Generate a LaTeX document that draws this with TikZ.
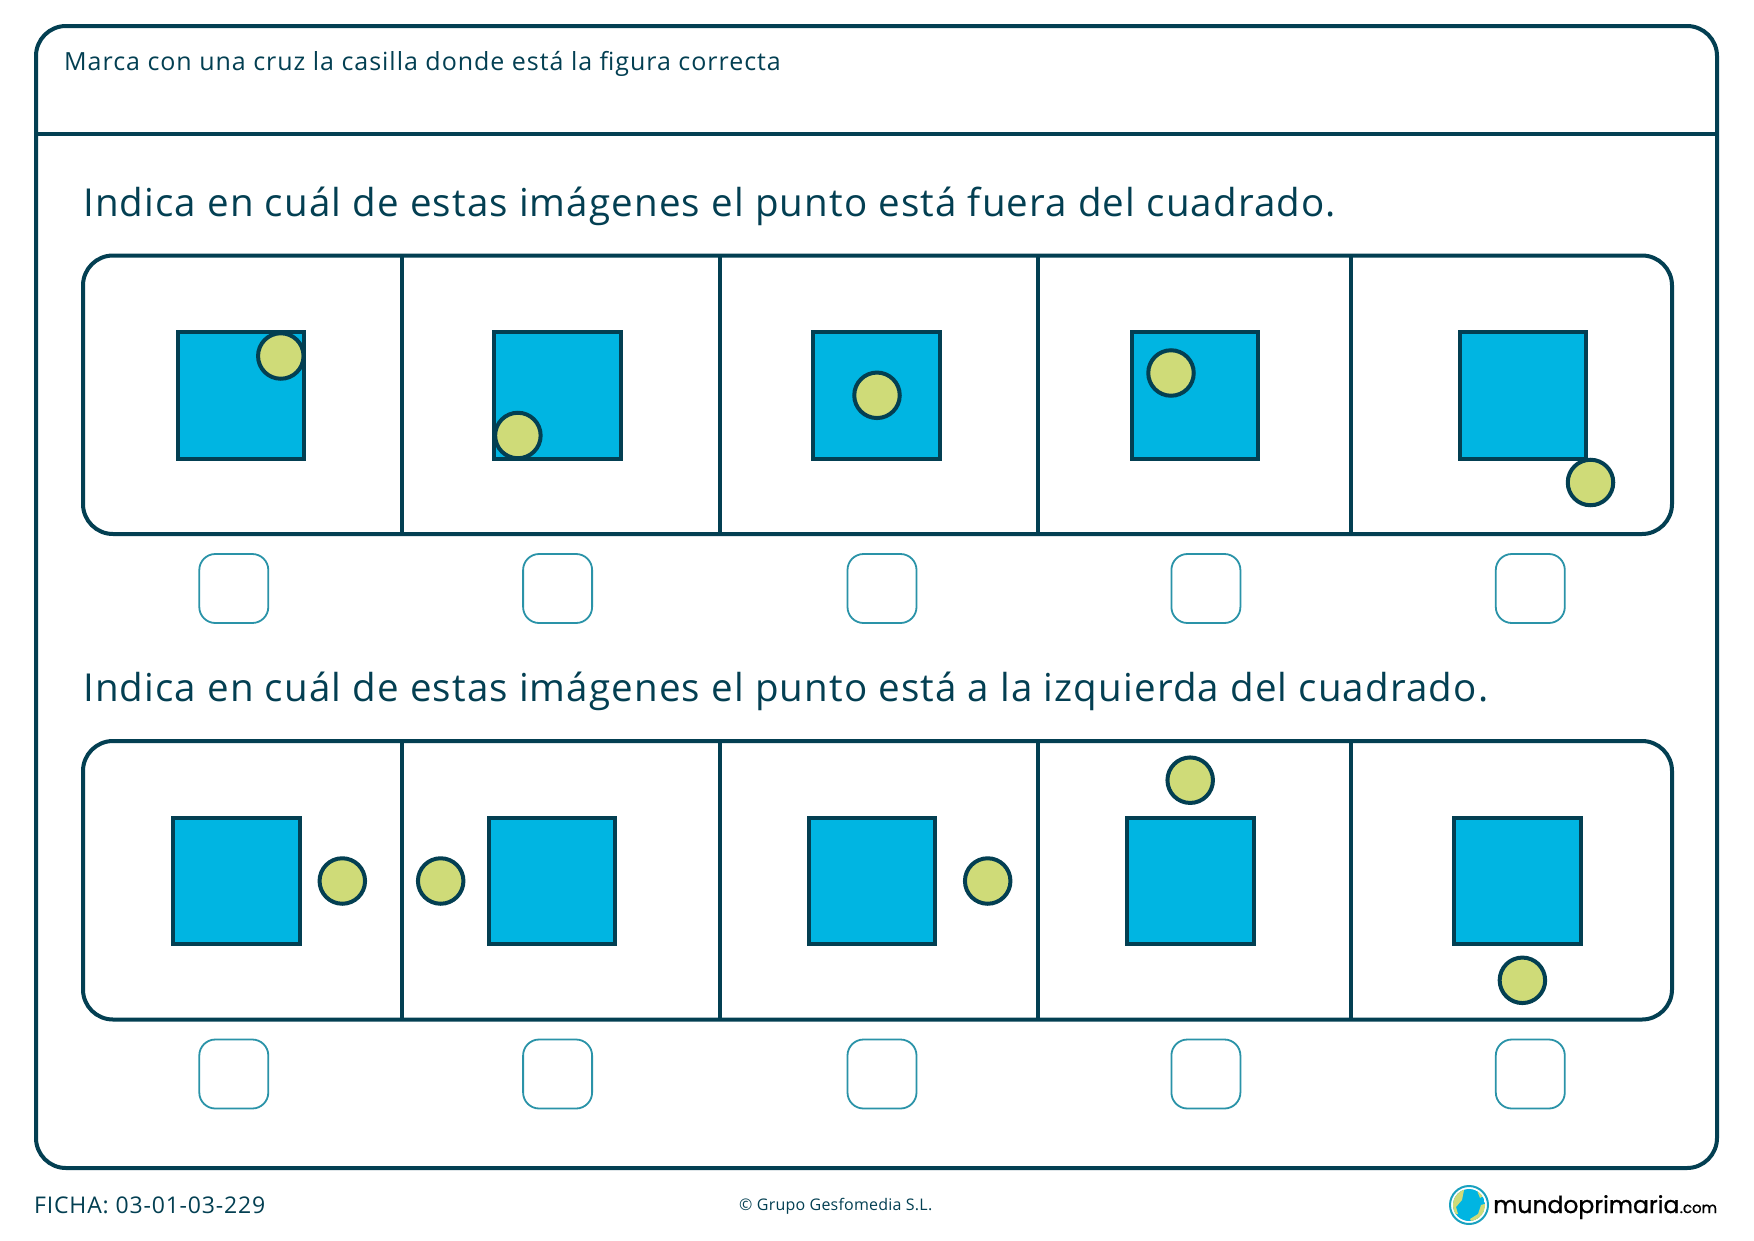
\documentclass[tikz,border=0pt]{standalone}
\usepackage{fontspec}
\setmainfont{Open Sans}
\newfontfamily\logofont[FakeBold=1]{Poppins}
\newfontface\headfont[LetterSpace=2.95]{Open Sans}
\newfontface\orderfont[LetterSpace=3.9]{Open Sans}
\newfontface\fichafont[LetterSpace=3.6]{Open Sans}
\newfontface\copyfont[LetterSpace=1.4]{Open Sans}
\definecolor{inkteal}{HTML}{033F52}
\definecolor{boxteal}{HTML}{2A93A8}
\definecolor{squareblue}{HTML}{00B5E2}
\definecolor{dotgreen}{HTML}{CFDB78}
\begin{document}
\begin{tikzpicture}
		[x=1pt,y=-1pt,
		framebox/.style={draw=inkteal,line width=4pt,rounded corners=30pt,inner sep=0pt,outer sep=0pt},
		square/.style={rectangle,draw=inkteal,line width=4pt,fill=squareblue,minimum size=126.5pt,inner sep=0pt},
		dot/.style={circle,draw=inkteal,line width=4pt,fill=dotgreen,minimum size=45.5pt,inner sep=0pt},
		tickbox/.style={rectangle,draw=boxteal,line width=1.8pt,rounded corners=16pt,minimum size=69pt,inner sep=0pt},
		heading/.style={anchor=base west,inner sep=0pt,text=inkteal,font=\headfont\fontsize{38.5}{46}\selectfont}]
	\useasboundingbox[fill=white] (0,0) rectangle (1754,1240);
	% outer frame
	\node[framebox,minimum width=1681pt,minimum height=1142pt] (frame) at (876.5,597) {};
	\draw[inkteal,line width=4pt] (36,133.5) -- (1717,133.5);
	\node[anchor=base west,inner sep=0pt,text=inkteal,font=\orderfont\fontsize{25}{30}\selectfont] (order) at (64,70) {Marca con una cruz la casilla donde está la figura correcta};
	\node[heading] (title1) at (83,216) {Indica en cuál de estas imágenes el punto está fuera del cuadrado.};
	\node[heading] (title2) at (83,701.5) {Indica en cuál de estas imágenes el punto está a la izquierda del cuadrado.};
	% panels
	\foreach \row/\ytop in {1/255.5,2/741}{
		\node[framebox,minimum width=1589pt,minimum height=278.5pt,anchor=north west] (panel\row) at (83,\ytop) {};
		\foreach \xdiv in {402,720,1038,1351}{
			\draw[inkteal,line width=4pt] (\xdiv,\ytop) -- (\xdiv,\ytop+278.5);
		}
		\foreach \xbox/\i in {233.8/1,557.6/2,882/3,1205.9/4,1530.3/5}{
			\node[tickbox] (box\row\i) at (\xbox,\ytop+333) {};
		}
	}
	% first row
	\foreach \i/\xs/\xd/\yd in {1/241/280.8/356,2/557.6/517.9/435.5,3/876.4/877/395.3,4/1195.2/1171/373,5/1523/1590.5/482.5}{
		\node[square] (squareA\i) at (\xs,395.5) {};
		\node[dot] (dotA\i) at (\xd,\yd) {};
	}
	% second row
	\foreach \i/\xs/\xd/\yd in {1/236.6/342.3/881,2/552/440.7/881,3/872/987.7/881,4/1190.7/1190.2/780.2,5/1517.4/1522.4/980.3}{
		\node[square] (squareB\i) at (\xs,881) {};
		\node[dot] (dotB\i) at (\xd,\yd) {};
	}
	% footer
	\node[anchor=base west,inner sep=0pt,text=inkteal,font=\fichafont\fontsize{23}{27}\selectfont] (ficha) at (34,1213) {FICHA: 03-01-03-229};
	\node[anchor=base west,inner sep=0pt,text=inkteal,font=\copyfont\fontsize{16}{19}\selectfont] (copy) at (739,1210) {© Grupo Gesfomedia S.L.};
	\node[circle,draw=boxteal!60!squareblue,line width=2pt,fill=white,minimum size=38pt,inner sep=0pt] (globe) at (1469,1205) {};
	\begin{scope}
		\clip (1469,1205) circle (16pt);
		\fill[squareblue] (1469,1205) circle (16pt);
		\fill[dotgreen] (1452,1190) -- (1464,1190) -- (1462,1200) -- (1456,1207) -- (1458,1214) -- (1450,1214) -- cycle;
		\fill[dotgreen] (1488,1203) -- (1481,1205) -- (1478,1214) -- (1470,1219) -- (1474,1226) -- (1488,1222) -- cycle;
		\fill[dotgreen] (1476,1188) -- (1486,1194) -- (1480,1198) -- cycle;
	\end{scope}
	\node[anchor=base west,inner sep=0pt,text=black,font=\logofont\fontsize{23.5}{28}\selectfont] (logo) at (1493,1213) {mundoprimaria};
	\node[anchor=base west,inner sep=0pt,text=black,font=\logofont\fontsize{15}{18}\selectfont] (logocom) at (logo.base east) {.com};
\end{tikzpicture}
\end{document}
